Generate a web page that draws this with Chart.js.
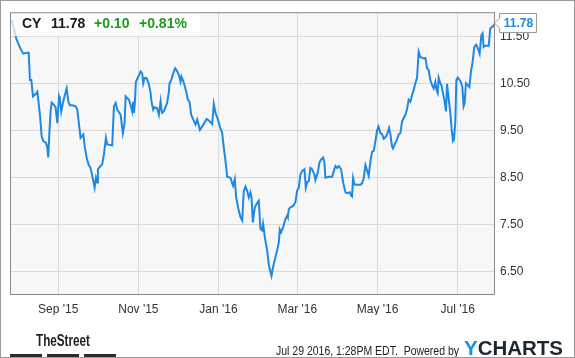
<!DOCTYPE html>
<html>
<head>
<meta charset="utf-8">
<script src="https://cdn.jsdelivr.net/npm/chart.js@4/dist/chart.umd.min.js"></script>
<style>
  html, body { margin: 0; padding: 0; background: #fff; }
  canvas { display: block; }
</style>
</head>
<body>
<canvas id="c" width="575" height="358"></canvas>
<script>
// ---- DATA (days since 1 Sep 2015, closing price) ----
const symbol = "CY";
const lastPrice = "11.78";
const change = "+0.10";
const changePct = "+0.81%";
const timestampText = "Jul 29 2016, 1:28PM EDT.  Powered by";

const days = [
  -35.4,-33.7,-31.9,-29.9,-28.1,-26.6,-24.0,-22.5,-21.5,-20.5,-19.2,-17.2,-15.9,-13.9,-12.6,-11.4,-9.3,-8.3,-7.6,-6.8,
  -5.8,-5.0,-3.2,-2.0,-0.7,0.6,1.3,2.3,3.3,4.4,6.4,7.7,8.9,10.7,13.2,14.5,16.0,17.0,19.1,20.3,
  21.6,23.1,24.6,26.2,27.7,28.7,29.7,30.2,32.2,33.5,34.8,36.3,37.3,41.1,42.4,43.7,44.9,47.5,49.2,50.5,
  51.3,53.8,55.1,56.3,57.1,57.6,58.4,59.1,60.9,62.7,63.9,64.7,65.7,67.2,69.0,70.3,71.0,72.3,73.3,75.3,
  76.6,77.9,78.4,79.1,80.4,82.9,84.2,84.7,86.0,87.5,89.0,90.0,91.8,93.1,93.8,94.9,96.1,97.4,98.7,99.9,
  101.2,102.7,104.5,105.8,107.8,110.3,112.9,114.6,117.2,118.4,119.7,121.5,123.0,124.8,126.0,127.3,128.6,131.1,132.4,133.1,
  134.4,135.4,137.4,138.7,140.0,141.2,142.5,143.8,145.0,146.3,147.1,148.1,149.6,150.9,152.6,153.9,155.2,155.9,157.2,159.0,
  160.3,161.5,162.3,163.5,165.3,166.6,167.9,168.6,169.6,171.2,172.9,174.2,174.7,175.5,176.7,178.8,180.5,181.8,183.1,184.3,
  185.6,187.4,188.4,189.4,190.7,191.9,193.2,195.0,195.7,197.5,198.8,200.1,201.6,202.6,203.3,205.9,208.4,209.7,211.0,212.2,
  213.5,215.3,216.8,218.6,219.8,221.9,222.9,223.6,224.4,225.4,226.9,230.0,231.2,232.5,233.8,235.0,236.3,237.6,238.8,240.1,
  241.4,242.6,243.7,245.2,246.4,247.7,249.0,250.2,251.8,252.8,254.0,254.8,256.6,257.8,259.1,260.4,261.7,262.9,264.2,265.4,
  266.7,268.0,269.3,270.5,271.8,273.1,274.3,275.6,276.9,278.1,279.4,280.7,281.9,283.2,284.5,285.7,287.0,287.8,288.8,289.5,
  290.8,291.6,292.8,294.1,295.1,295.9,297.1,298.4,299.7,300.4,301.2,302.2,303.0,304.0,306.0,307.5,308.5,309.3,310.3,311.6,
  312.9,314.1,315.4,316.6,318.1,319.9,320.7,322.0,323.0,323.7,325.0,327.6,328.8,330.1,331.4,332.3
];
const prices = [
  11.84,11.66,11.45,11.31,11.20,11.13,11.15,11.15,10.57,10.57,10.22,10.27,10.32,9.83,9.37,9.27,9.23,9.13,8.92,9.41,
  9.90,10.09,10.04,9.99,9.65,10.22,10.15,9.90,10.04,10.18,10.39,10.11,10.03,10.03,10.01,9.94,9.58,9.34,9.41,9.13,
  8.92,8.77,8.70,8.49,8.28,8.49,8.39,8.67,8.74,8.78,8.99,9.34,9.20,9.18,10.01,10.08,9.94,9.83,9.44,9.65,
  10.22,10.15,10.04,9.90,10.11,9.87,10.11,10.53,10.64,10.75,10.71,10.50,10.61,10.61,10.48,10.29,10.11,9.94,9.99,9.97,
  9.83,10.11,9.97,9.87,9.90,10.08,10.32,10.50,10.57,10.71,10.82,10.78,10.68,10.53,10.64,10.57,10.46,10.32,10.15,10.11,
  9.83,9.73,9.62,9.73,9.51,9.61,9.74,9.71,9.63,10.06,9.87,9.73,9.58,9.44,9.13,8.85,8.51,8.49,8.37,8.32,
  8.46,8.07,7.79,7.65,7.58,8.21,8.30,8.21,8.07,8.18,8.07,7.54,7.86,7.93,8.00,7.40,7.37,7.51,7.23,6.94,
  6.63,6.49,6.40,6.59,6.80,6.94,7.12,7.39,7.33,7.44,7.61,7.68,7.65,7.82,7.86,7.89,7.97,8.21,8.28,8.56,
  8.63,8.67,8.28,8.39,8.42,8.70,8.67,8.56,8.44,8.60,8.81,8.88,8.92,8.81,8.49,8.51,8.51,8.63,8.74,8.70,
  8.74,8.67,8.39,8.18,8.16,8.18,8.11,8.09,8.48,8.35,8.34,8.34,8.37,8.48,8.76,8.65,8.53,8.85,9.04,9.06,
  9.27,9.49,9.58,9.44,9.42,9.32,9.35,9.41,9.55,9.41,9.16,9.11,9.23,9.30,9.41,9.44,9.69,9.76,9.83,9.94,
  10.15,10.11,10.25,10.36,10.50,10.62,11.17,11.06,11.04,11.03,11.04,10.82,10.78,10.57,10.46,10.39,10.53,10.36,10.29,10.62,
  10.50,10.46,10.29,10.11,9.90,10.49,10.18,9.87,9.44,9.27,9.30,9.69,10.57,10.62,10.55,10.43,10.01,10.08,10.50,10.46,
  10.42,10.75,10.96,11.27,11.32,11.20,11.13,11.52,11.56,11.27,11.30,11.30,11.66,11.70,11.72,11.78
];
const xTickDays = [0, 61, 122, 182, 243, 304];
const xTickLabels = ["Sep '15", "Nov '15", "Jan '16", "Mar '16", "May '16", "Jul '16"];
const yTicks = [6.5, 7.5, 8.5, 9.5, 10.5, 11.5];

// ---- STYLE ----
const FONT = "'Liberation Sans', Arial, Helvetica, sans-serif";
const LINE = '#1e88e5';
const GRID = '#d9d9d9';

const decorPlugin = {
  id: 'decor',
  beforeDraw(chart) {
    const { ctx, chartArea: a } = chart;
    ctx.save();
    ctx.fillStyle = '#ffffff';
    ctx.fillRect(0, 0, chart.width, chart.height);
    ctx.fillStyle = '#f7f7f7';
    ctx.fillRect(a.left, a.top, a.right - a.left, a.bottom - a.top);
    ctx.restore();
  },
  afterDraw(chart) {
    const { ctx, chartArea: a } = chart;
    ctx.save();
    // header overlay
    ctx.fillStyle = 'rgba(255,255,255,0.72)';
    ctx.fillRect(a.left, a.top, 190, 24);
    ctx.textBaseline = 'middle';
    ctx.textAlign = 'left';
    ctx.font = 'bold 14px ' + FONT;
    ctx.fillStyle = '#1a1a1a';
    ctx.fillText(symbol, 22, 24);
    ctx.fillText(lastPrice, 51, 24);
    ctx.fillStyle = '#1f9a1f';
    ctx.fillText(change, 94, 24);
    ctx.fillText(changePct, 139, 24);

    // plot border
    ctx.strokeStyle = '#8a8a8a';
    ctx.lineWidth = 1;
    ctx.strokeRect(a.left + 0.5, a.top + 0.5, a.right - a.left - 1, a.bottom - a.top - 1);

    // last price tag
    const yl = chart.scales.y.getPixelForValue(prices[prices.length - 1]);
    const bx = a.right + 4.5, bw = 37, bh = 19, by = Math.round(yl) - 9.5;
    ctx.beginPath();
    ctx.moveTo(a.right - 0.5, yl);
    ctx.lineTo(bx, yl - 5);
    ctx.lineTo(bx, by);
    ctx.lineTo(bx + bw, by);
    ctx.lineTo(bx + bw, by + bh);
    ctx.lineTo(bx, by + bh);
    ctx.lineTo(bx, yl + 5);
    ctx.closePath();
    ctx.fillStyle = '#ffffff';
    ctx.fill();
    ctx.strokeStyle = '#9a9a9a';
    ctx.stroke();
    ctx.fillStyle = LINE;
    ctx.font = 'bold 12px ' + FONT;
    ctx.textAlign = 'center';
    ctx.fillText(lastPrice, bx + bw / 2 + 0.5, by + bh / 2 + 0.5);

    // footer: TheStreet
    ctx.textAlign = 'left';
    ctx.font = 'bold 16px ' + FONT;
    ctx.fillStyle = '#222';
    let w = ctx.measureText('TheStreet').width;
    ctx.save();
    ctx.translate(36, 342);
    ctx.scale(54 / w, 1);
    ctx.fillText('TheStreet', 0, 0);
    ctx.restore();
    ctx.fillStyle = '#2b2b2b';
    ctx.fillRect(10, 354, 32, 3);
    ctx.fillRect(47, 354, 32, 3);
    ctx.fillRect(84, 354, 32, 3);

    // footer: timestamp
    ctx.font = '12px ' + FONT;
    ctx.fillStyle = '#222';
    w = ctx.measureText(timestampText).width;
    ctx.save();
    ctx.translate(276, 352);
    ctx.scale(183 / w, 1);
    ctx.fillText(timestampText, 0, 0);
    ctx.restore();

    // footer: YCHARTS logo
    ctx.font = 'bold 21px ' + FONT;
    const wy = ctx.measureText('Y').width;
    const wc = ctx.measureText('CHARTS').width;
    const sc = 99 / (wy + wc);
    ctx.save();
    ctx.translate(464, 349);
    ctx.scale(sc, 1);
    ctx.fillStyle = '#1592e6';
    ctx.fillText('Y', 0, 0);
    ctx.fillStyle = '#1b2733';
    ctx.fillText('CHARTS', wy, 0);
    ctx.restore();

    // outer frame
    ctx.strokeStyle = '#9a9a9a';
    ctx.strokeRect(0.5, 0.5, chart.width - 1, chart.height - 1);
    ctx.restore();
  }
};

new Chart(document.getElementById('c'), {
  type: 'line',
  data: {
    datasets: [{
      data: days.map((d, i) => ({ x: d, y: prices[i] })),
      borderColor: LINE,
      borderWidth: 2,
      pointRadius: 0,
      tension: 0,
      fill: false
    }]
  },
  options: {
    responsive: false,
    devicePixelRatio: 1,
    animation: false,
    layout: { padding: { left: 10, top: 10, right: 0, bottom: 43 } },
    plugins: { legend: { display: false }, tooltip: { enabled: false } },
    scales: {
      x: {
        type: 'linear',
        min: -36.7,
        max: 332.4,
        afterBuildTicks: (ax) => { ax.ticks = xTickDays.map(v => ({ value: v })); },
        afterFit: (ax) => { ax.height = 20; },
        grid: { color: GRID, drawTicks: false },
        border: { display: false },
        ticks: {
          autoSkip: false, maxRotation: 0, padding: 7,
          color: '#333', font: { family: FONT, size: 12 },
          callback: (v) => { const i = xTickDays.indexOf(v); return i >= 0 ? xTickLabels[i] : ''; }
        }
      },
      y: {
        position: 'right',
        min: 5.994,
        max: 12.013,
        afterBuildTicks: (ax) => { ax.ticks = yTicks.map(v => ({ value: v })); },
        afterFit: (ax) => { ax.width = 80; },
        grid: { color: GRID, drawTicks: false },
        border: { display: false },
        ticks: {
          padding: 5, color: '#333', font: { family: FONT, size: 12 },
          callback: (v) => Number(v).toFixed(2)
        }
      }
    }
  },
  plugins: [decorPlugin]
});
</script>
</body>
</html>
